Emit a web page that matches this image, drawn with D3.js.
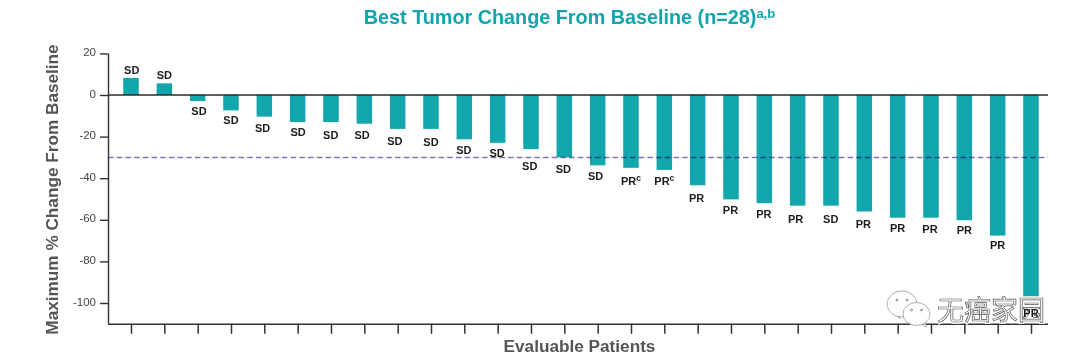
<!DOCTYPE html>
<html><head><meta charset="utf-8">
<script src="https://cdn.jsdelivr.net/npm/d3@7/dist/d3.min.js"></script>
<style>html,body{margin:0;padding:0;background:#fff}svg{display:block}text{font-family:"Liberation Sans",Arial,sans-serif}</style>
</head><body><div id="c"></div>
<script>
const patients = d3.range(1, 29);
const changes = [8.2,5.6,-2.9,-7.4,-10.4,-13,-13,-13.8,-16.3,-16.3,-21.3,-23,-26,-30,-33.8,-35,-36,-43.4,-50.2,-52,-53.2,-53.2,-56,-59,-59,-60.2,-67.6,-100];
const responses = ["SD","SD","SD","SD","SD","SD","SD","SD","SD","SD","SD","SD","SD","SD","SD","PR","PR","PR","PR","PR","PR","SD","PR","PR","PR","PR","PR","PR"];
const footnotes = ["","","","","","","","","","","","","","","","c","c","","","","","","","","","","",""];
const labelLevels = [12.2,9.6,-7.7,-12,-15.7,-17.9,-19.1,-19.1,-22.3,-22.5,-26.6,-27.9,-34.1,-35.7,-38.8,-41.5,-41.2,-49.5,-55.4,-57.4,-59.6,-59.6,-62.2,-63.8,-64.4,-65,-72.3,-104.8];
const labelShift = [0.7,0,1.3,0,-1.7,0.5,-0.3,-2.2,-2.8,0,-0.5,-0.5,-1.3,-1,-2,0,0,-1,-0.5,-0.5,-2,-0.3,-1,0,-1,0,0,0];
const yTicks = [20,0,-20,-40,-60,-80,-100];
const threshold = -30;
const titleText = "Best Tumor Change From Baseline (n=28)";
const titleNote = "a,b";
const yTitle = "Maximum % Change From Baseline";
const xTitle = "Evaluable Patients";
const watermark = "无癌家园";

const W = 1080, H = 359, left = 108, right = 1048;
const teal = "#12a6ad", axisCol = "#333";
const svg = d3.select("#c").append("svg").attr("width", W).attr("height", H);
const x = d3.scalePoint().domain(patients).range([131, 1031]);
const y = d3.scaleLinear().domain([-110, 20]).range([323.8, 53.4]);
const barW = 15.5;

svg.selectAll("rect.bar").data(patients).join("rect").attr("class", "bar")
  .attr("x", (d) => x(d) - barW / 2)
  .attr("width", barW)
  .attr("y", (d, i) => y(Math.max(0, changes[i])))
  .attr("height", (d, i) => Math.abs(y(changes[i]) - y(0)))
  .attr("fill", teal);

// axes
const gy = svg.append("g").attr("transform", `translate(${left},0)`)
  .call(d3.axisLeft(y).tickValues(yTicks).tickSize(8).tickPadding(4).tickFormat(d => String(d)));
gy.select(".domain").attr("stroke", axisCol).attr("stroke-width", 1.4).attr("d", `M0.5,${y(20)}V${y(-110)}`);
gy.selectAll("line").attr("stroke", axisCol).attr("stroke-width", 1.4);
gy.selectAll("text").attr("fill", "#444").attr("font-size", 11.5).attr("font-family", "Liberation Sans").attr("dy", "0.18em");

const gx = svg.append("g").attr("transform", `translate(0,${y(-110)})`)
  .call(d3.axisBottom(x).tickSize(10).tickFormat(""));
gx.select(".domain").attr("stroke", axisCol).attr("stroke-width", 1.4).attr("d", `M${left},0.5H${right}`);
gx.selectAll("line").attr("stroke", axisCol).attr("stroke-width", 1.5);

svg.append("line").attr("x1", left).attr("x2", right).attr("y1", y(0)).attr("y2", y(0))
  .attr("stroke", "#2a2a2a").attr("stroke-width", 1.5);
svg.append("line").attr("x1", left).attr("x2", right).attr("y1", y(threshold)).attr("y2", y(threshold))
  .attr("stroke", "#8a6fb8").attr("stroke-width", 1.5).attr("stroke-dasharray", "5.5,3.2")
  .style("mix-blend-mode", "multiply");

// watermark
const wm = svg.append("g");
const bubble = (cx, cy, rx, ry, tx, ty) => {
  wm.append("path").attr("d", `M${tx - 6},${ty - 6}L${tx},${ty}L${tx - 1},${ty - 7}Z`).attr("fill", "#fff").attr("stroke", "#888").attr("stroke-width", 0.7);
  wm.append("ellipse").attr("cx", cx).attr("cy", cy).attr("rx", rx).attr("ry", ry).attr("fill", "#fff").attr("stroke", "#999").attr("stroke-width", 0.8);
  [-5, 5].forEach(d => wm.append("circle").attr("cx", cx + d).attr("cy", cy - 4).attr("r", 1).attr("fill", "#fff").attr("stroke", "#666").attr("stroke-width", 0.7));
};
bubble(902, 304, 15, 13, 900, 319);
bubble(916.5, 314, 13.5, 11.5, 926, 327);
wm.append("text").attr("x", 937).attr("y", 319.5).attr("font-size", 27)
  .style("font-family", '"Noto Sans CJK SC"').attr("fill", "none").attr("stroke", "#fff").attr("stroke-width", 3.5).text(watermark);
wm.append("text").attr("x", 937).attr("y", 319.5).attr("font-size", 27)
  .style("font-family", '"Noto Sans CJK SC"').attr("fill", "#fff").attr("stroke", "#555").attr("stroke-width", 0.7).text(watermark);

// response labels
const lab = svg.selectAll("text.resp").data(patients).join("text").attr("class", "resp")
  .attr("x", (d, i) => x(d) + labelShift[i])
  .attr("y", (d, i) => y(labelLevels[i]) + 4)
  .attr("text-anchor", "middle").attr("font-size", 11).attr("font-weight", 700).attr("fill", "#1c1c1c");
lab.append("tspan").text((d, i) => responses[i]);
lab.filter((d, i) => footnotes[i]).append("tspan").attr("dy", -4).attr("font-size", 8.5).text((d) => footnotes[d - 1]);

// titles
const t = svg.append("text").attr("x", 569.5).attr("y", 24).attr("text-anchor", "middle")
  .attr("font-size", 19.8).attr("font-weight", 700).attr("fill", "#12a5ad");
t.append("tspan").text(titleText);
t.append("tspan").attr("dy", -6).attr("font-size", 13).text(titleNote);

svg.append("text").attr("transform", "translate(58,189.5) rotate(-90)").attr("text-anchor", "middle")
  .attr("font-size", 17.2).attr("font-weight", 700).attr("fill", "#555").text(yTitle);
svg.append("text").attr("x", 579.5).attr("y", 352).attr("text-anchor", "middle")
  .attr("font-size", 17.2).attr("font-weight", 700).attr("fill", "#555").text(xTitle);
</script></body></html>
